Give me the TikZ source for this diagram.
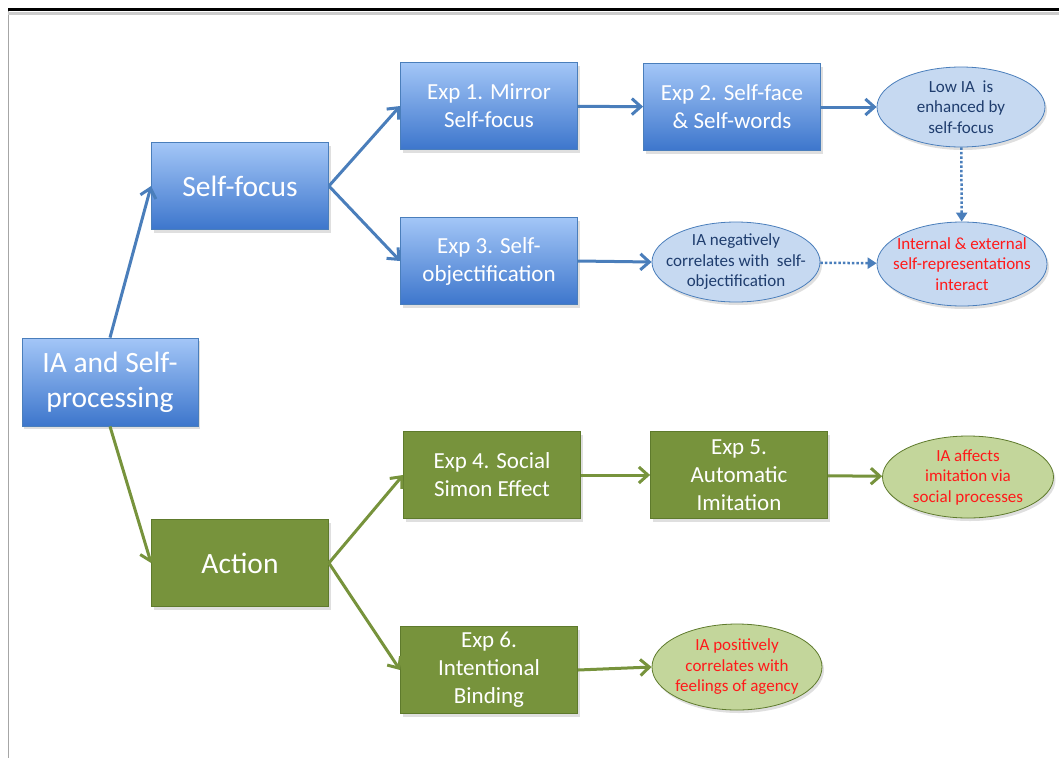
\documentclass[tikz,border=0pt]{standalone}
\usepackage{fontspec}
\setmainfont{Carlito}
\usepackage{xcolor}
\usetikzlibrary{arrows.meta,positioning,shapes.geometric,shadows}
\definecolor{bTop}{HTML}{A3C6F7}
\definecolor{bBot}{HTML}{3D76CC}
\definecolor{bEdge}{HTML}{4A7EBB}
\definecolor{gBox}{HTML}{77933C}
\definecolor{gEdge}{HTML}{5E7A2C}
\definecolor{bOval}{HTML}{C6D9F1}
\definecolor{gOval}{HTML}{C3D69B}
\definecolor{inkB}{HTML}{1F3D6E}
\definecolor{inkR}{HTML}{FF1A1A}

\tikzset{
  bluebox/.style={draw=bEdge, top color=bTop, bottom color=bBot, line width=0.8pt,
    minimum width=177pt, minimum height=87pt, inner sep=2pt, align=center,
    text=white, font=\fontsize{23}{28}\selectfont,
    drop shadow={shadow xshift=2pt, shadow yshift=-3pt, opacity=0.25}},
  greenbox/.style={bluebox, draw=gEdge, top color=gBox, bottom color=gBox},
  bigtext/.style={font=\fontsize{29.5}{35}\selectfont},
  blueoval/.style={ellipse, draw=bEdge, fill=bOval, line width=0.8pt,
    minimum width=168pt, minimum height=80pt, inner xsep=-16pt, inner ysep=-4pt, align=center,
    text=inkB, font=\fontsize{17}{20.5}\selectfont,
    drop shadow={shadow xshift=2pt, shadow yshift=-3pt, opacity=0.25}},
  greenoval/.style={blueoval, draw=gEdge, fill=gOval},
  bluearrow/.style={draw=bEdge, line width=3pt, -{Straight Barb[length=9pt,width=16pt]}},
  greenarrow/.style={bluearrow, draw=gBox},
  dotarrow/.style={bluearrow, line width=2.5pt, dotted, -{Triangle[length=9pt,width=11pt]}}
}

\begin{document}
\begin{tikzpicture}[x=1pt,y=-1pt]
  \useasboundingbox (0,0) rectangle (1059,758);
  % frame
  \draw[gray!70, line width=1pt] (8.5,9) -- (8.5,758);
  \draw[black!20, line width=3pt] (8,13) -- (1059,13);
  \draw[black, line width=3pt] (8,9) -- (1059,9);

  % boxes
  \node[bluebox, bigtext, minimum width=176pt, minimum height=88pt] (ia) at (110,382) {IA and Self-\\processing};
  \node[bluebox, bigtext] (sf) at (240,186) {Self-focus};
  \node[greenbox, bigtext] (act) at (240,563) {Action};

  \node[bluebox] (e1) at (489,106) {Exp 1. Mirror\\Self-focus};
  \node[bluebox] (e2) at (732,107) {Exp 2. Self-face\\\& Self-words};
  \node[bluebox] (e3) at (489,261) {Exp 3. Self-\\objectification};
  \node[greenbox] (e4) at (492,475) {Exp 4. Social\\Simon Effect};
  \node[greenbox] (e5) at (739,475) {Exp 5.\\Automatic\\Imitation};
  \node[greenbox] (e6) at (489,670) {Exp 6.\\Intentional\\Binding};

  % outcomes
  \node[blueoval] (o1) at (961,107) {Low IA\ \ is\\enhanced by\\self-focus};
  \node[blueoval] (o2) at (736,262) {IA negatively\\correlates with\ \ self-\\objectification};
  \node[blueoval, text=inkR, minimum width=170pt, minimum height=84pt] (o3) at (962,264)
    {Internal \& external\\self-representations\\interact};
  \node[greenoval, text=inkR, minimum width=171pt, minimum height=82pt] (o4) at (968,477)
    {IA affects\\imitation via\\social processes};
  \node[greenoval, text=inkR, minimum width=170pt, minimum height=86pt] (o5) at (737,667)
    {IA positively\\correlates with\\feelings of agency};

  % connectors
  \draw[bluearrow] (ia.north) -- (sf.west);
  \draw[greenarrow] (ia.south) -- (act.west);
  \draw[bluearrow] (sf.east) -- (e1.west);
  \draw[bluearrow] (sf.east) -- (e3.west);
  \draw[greenarrow] (act.east) -- (e4.west);
  \draw[greenarrow] (act.east) -- (e6.west);
  \draw[bluearrow] (e1) -- (e2);
  \draw[bluearrow] (e2) -- (o1);
  \draw[bluearrow] (e3.east) -- (o2.west);
  \draw[greenarrow] (e4) -- (e5);
  \draw[greenarrow] (e5) -- (o4);
  \draw[greenarrow] (e6.east) -- (o5.west);
  \draw[dotarrow] (o1) -- (o3);
  \draw[dotarrow] (o2) -- (o3);
\end{tikzpicture}
\end{document}
